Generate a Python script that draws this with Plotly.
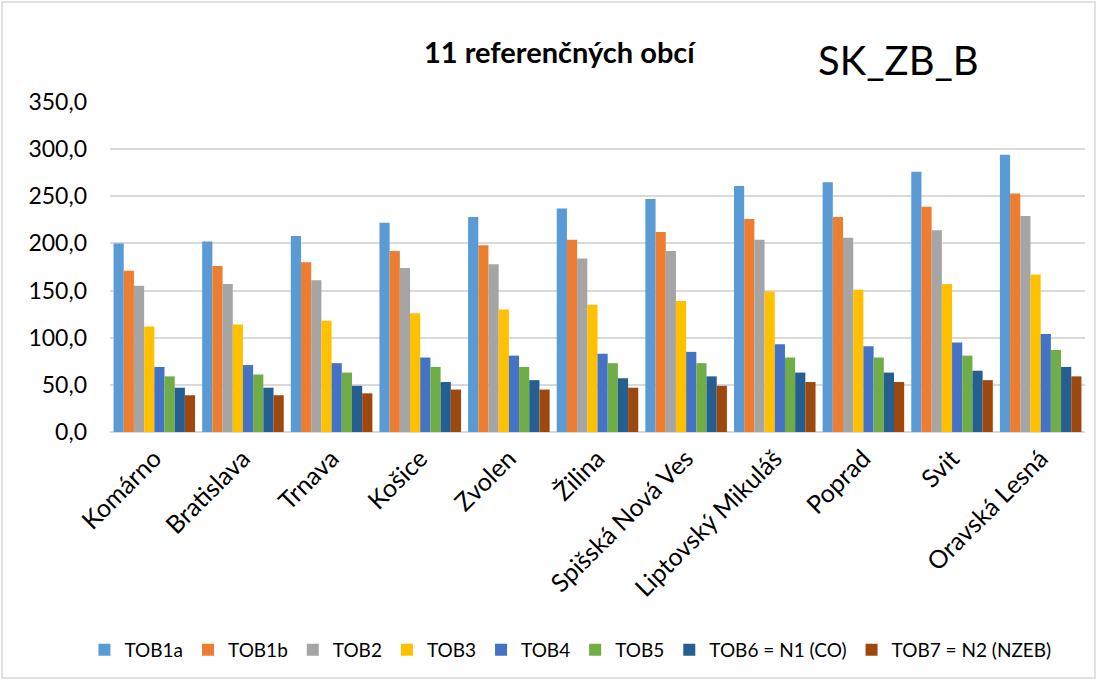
import plotly.graph_objects as go

categories = ["Komárno", "Bratislava", "Trnava", "Košice", "Zvolen", "Žilina",
              "Spišská Nová Ves", "Liptovský Mikuláš", "Poprad", "Svit", "Oravská Lesná"]

series_names = ["TOB1a", "TOB1b", "TOB2", "TOB3", "TOB4", "TOB5",
                "TOB6 = N1 (CO)", "TOB7 = N2 (NZEB)"]

tob1a = [200, 202, 208, 222, 228, 237, 247, 261, 265, 276, 294]
tob1b = [171, 176, 180, 192, 198, 204, 212, 226, 228, 239, 253]
tob2 = [155, 157, 161, 174, 178, 184, 192, 204, 206, 214, 229]
tob3 = [112, 114, 118, 126, 130, 135, 139, 149, 151, 157, 167]
tob4 = [69, 71, 73, 79, 81, 83, 85, 93, 91, 95, 104]
tob5 = [59, 61, 63, 69, 69, 73, 73, 79, 79, 81, 87]
tob6 = [47, 47, 49, 53, 55, 57, 59, 63, 63, 65, 69]
tob7 = [39, 39, 41, 45, 45, 47, 49, 53, 53, 55, 59]

values = [tob1a, tob1b, tob2, tob3, tob4, tob5, tob6, tob7]
colors = ["#5B9BD5", "#ED7D31", "#A5A5A5", "#FFC000", "#4472C4", "#70AD47", "#255E91", "#9E480E"]

y_ticks = [0, 50, 100, 150, 200, 250, 300, 350]

FONT = "Lato, Open Sans, sans-serif"
W, H = 1097, 680
ML, MR, MT, MB = 110, 12, 102, 248
PW, PH = W - ML - MR, H - MT - MB


def px_x(x):
    return (x - ML) / PW


def px_y(y):
    return (H - MB - y) / PH


fig = go.Figure()
for name, vals, col in zip(series_names, values, colors):
    fig.add_trace(go.Bar(name=name, x=categories, y=vals, marker_color=col,
                         marker_line_width=0))

fig.update_layout(
    width=W, height=H,
    barmode="group", bargap=0.08, bargroupgap=0,
    plot_bgcolor="white", paper_bgcolor="white",
    separators=", ",
    margin=dict(l=ML, r=MR, t=MT, b=MB, autoexpand=False),
    font=dict(family=FONT, size=20, color="#000000"),
    showlegend=True,
    legend=dict(orientation="h", xref="container", yref="container",
                x=0.52, xanchor="center", y=(H - 650) / H, yanchor="middle",
                font=dict(size=19, family=FONT), itemwidth=30, tracegroupgap=0,
                traceorder="normal"),
    annotations=[
        dict(text="<b>11 referenčných obcí</b>", x=px_x(560), y=px_y(52),
             xref="paper", yref="paper", xanchor="center", yanchor="middle",
             showarrow=False, font=dict(size=29, family=FONT)),
        dict(text="SK_ZB_B", x=px_x(898), y=px_y(60),
             xref="paper", yref="paper", xanchor="center", yanchor="middle",
             showarrow=False, font=dict(size=40, family=FONT)),
    ],
)

fig.update_yaxes(range=[0, 350], tickvals=y_ticks, tickformat=".1f",
                 showgrid=True, gridcolor="#D9D9D9", gridwidth=2,
                 zeroline=True, zerolinecolor="#D9D9D9", zerolinewidth=2,
                 ticks="", ticklabelstandoff=22, automargin=False,
                 tickfont=dict(size=23, family=FONT), fixedrange=True)
fig.update_xaxes(tickangle=-45, tickfont=dict(size=25, family=FONT),
                 showline=False, ticks="", automargin=False, ticklabelstandoff=6)

fig.add_shape(type="rect", xref="paper", yref="paper",
              x0=px_x(2), x1=px_x(1095), y0=px_y(678), y1=px_y(2),
              line=dict(color="#D9D9D9", width=1.5), fillcolor="rgba(0,0,0,0)", layer="below")

fig.write_html("out.html", config={"displayModeBar": False},
               post_script="document.body.style.margin='0';document.body.style.overflow='hidden';")
